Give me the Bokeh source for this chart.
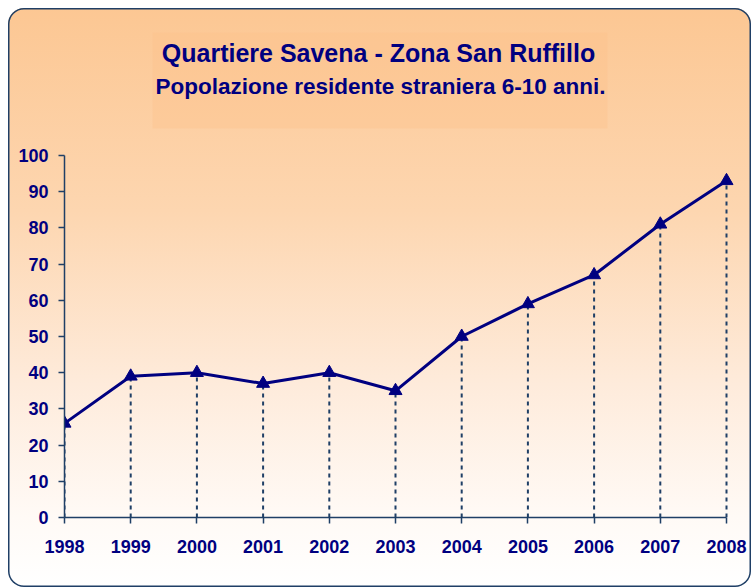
from bokeh.plotting import figure
from bokeh.models import Range1d, FixedTicker, Label, BoxAnnotation, ColumnDataSource
from bokeh.embed import file_html
from bokeh.resources import INLINE

years = [1998, 1999, 2000, 2001, 2002, 2003, 2004, 2005, 2006, 2007, 2008]
values = [26, 39, 40, 37, 40, 35, 50, 59, 67, 81, 93]
y_ticks = [0, 10, 20, 30, 40, 50, 60, 70, 80, 90, 100]
title_text = "Quartiere Savena - Zona San Ruffillo"
subtitle_text = "Popolazione residente straniera 6-10 anni."

NAVY = "#000080"
AXIS = "#1F3F66"

# layout (pixels)
W, H = 743, 579
FRAME_LEFT, FRAME_BOTTOM_BORDER = 56, 70
frame_w = W - FRAME_LEFT
frame_h = H - FRAME_BOTTOM_BORDER
px_per_year = 66.2
px_per_unit = 3.62

x_start, x_stop = years[0], years[-1]
y_start, y_stop = y_ticks[0], y_ticks[-1]

p = figure(width=W, height=H, output_backend="svg", toolbar_location=None,
           x_range=Range1d(x_start, x_start + frame_w / px_per_year),
           y_range=Range1d(y_start, y_start + frame_h / px_per_unit),
           min_border_left=FRAME_LEFT, min_border_right=0, min_border_top=0,
           min_border_bottom=FRAME_BOTTOM_BORDER)
p.margin = (8, 0, 0, 8)
p.background_fill_alpha = 0
p.border_fill_alpha = 0
p.outline_line_color = None
p.styles = {
    "background": "linear-gradient(to bottom, #FCC793 0%, #FDD6B0 35%, #FEEBDB 65%, #FFFAF6 88%, #FFFFFF 100%)",
    "border-radius": "16px",
    "box-shadow": "inset 0 0 0 1.5px " + AXIS,
}
p.xgrid.visible = False
p.ygrid.visible = False

for ax in (p.xaxis[0], p.yaxis[0]):
    ax.axis_line_color = AXIS
    ax.axis_line_width = 1.5
    ax.major_tick_line_color = AXIS
    ax.major_tick_line_width = 1.5
    ax.major_tick_in = 0
    ax.major_tick_out = 6
    ax.minor_tick_line_color = None
    ax.major_label_text_font = "Liberation Sans"
    ax.major_label_text_font_style = "bold"
    ax.major_label_text_font_size = "18px"
    ax.major_label_text_color = NAVY

p.xaxis.ticker = FixedTicker(ticks=years)
p.yaxis.ticker = FixedTicker(ticks=y_ticks)
p.xaxis.bounds = (x_start, x_stop)
p.yaxis.bounds = (y_start, y_stop)
p.xaxis.major_label_standoff = 16
p.yaxis.major_label_standoff = 10

src = ColumnDataSource(dict(x=years, y=values, y0=[0] * len(years)))

p.segment(x0="x", y0="y0", x1="x", y1="y", source=src, line_color=AXIS,
          line_width=2, line_dash="4 4")
p.line(x="x", y="y", source=src, line_color=NAVY, line_width=3)
p.scatter(x="x", y="y", source=src, marker="triangle", size=13,
          fill_color=NAVY, line_color=NAVY)

# title box (screen units: x from frame left, y up from frame bottom)
box = BoxAnnotation(left=88, right=543, top=485, bottom=389,
                    left_units="screen", right_units="screen",
                    top_units="screen", bottom_units="screen",
                    fill_color="#FBC08A", fill_alpha=0.35, line_color=None,
                    level="underlay")
p.add_layout(box)

p.add_layout(Label(x=314, y=465, x_units="screen", y_units="screen", text=title_text,
                   text_align="center", text_baseline="alphabetic",
                   text_font="Liberation Sans", text_font_style="bold",
                   text_font_size="25px", text_color=NAVY))
p.add_layout(Label(x=316, y=431, x_units="screen", y_units="screen", text=subtitle_text,
                   text_align="center", text_baseline="alphabetic",
                   text_font="Liberation Sans", text_font_style="bold",
                   text_font_size="22.5px", text_color=NAVY))

open("out.html", "w").write(file_html(p, INLINE))
